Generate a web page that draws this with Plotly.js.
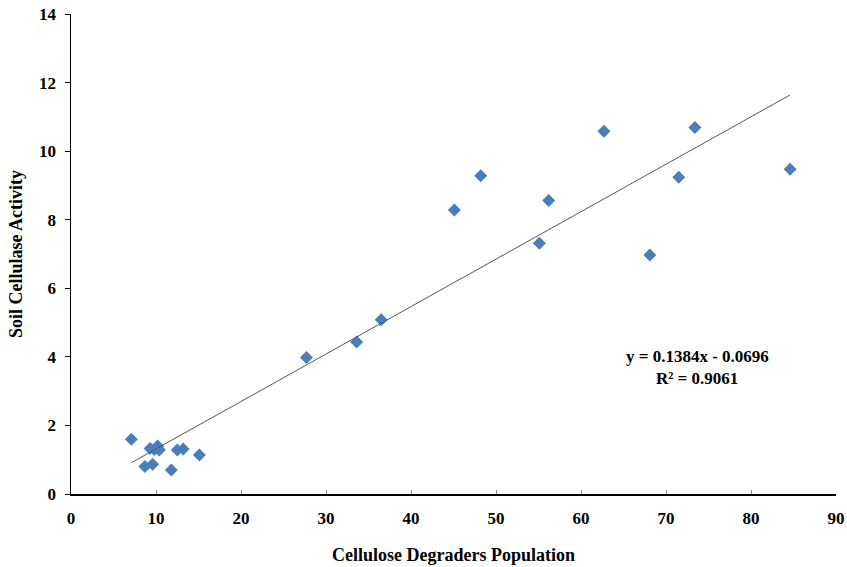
<!DOCTYPE html>
<html>
<head>
<meta charset="utf-8">
<script src="https://cdn.plot.ly/plotly-3.0.1.min.js"></script>
<style>html,body{margin:0;padding:0;background:#fff;}#chart{width:847px;height:567px;}</style>
</head>
<body>
<div id="chart"></div>
<script>
// Cellulose degraders population (x) vs soil cellulase activity (y)
var population = [7.1, 8.7, 9.3, 9.6, 9.8, 10.2, 10.4, 11.8, 12.5, 13.2, 15.1,
                  27.7, 33.6, 36.5, 45.1, 48.2, 55.1, 56.2, 62.7, 68.1, 71.5, 73.4, 84.6];
var activity   = [1.60, 0.80, 1.33, 0.87, 1.30, 1.40, 1.28, 0.70, 1.28, 1.31, 1.14,
                  3.98, 4.43, 5.08, 8.28, 9.28, 7.31, 8.56, 10.58, 6.97, 9.24, 10.69, 9.47];
var slope = 0.1384;
var intercept = -0.0696;
var rSquared = 0.9061;
var xTicks = [0, 10, 20, 30, 40, 50, 60, 70, 80, 90];
var yTicks = [0, 2, 4, 6, 8, 10, 12, 14];

var xmin = Math.min.apply(null, population);
var xmax = Math.max.apply(null, population);
var trendX = [xmin, xmax];
var trendY = trendX.map(function (v) { return slope * v + intercept; });

var fam = '"Liberation Serif", "Times New Roman", serif';

var data = [
  {
    x: population, y: activity, type: 'scatter', mode: 'markers',
    marker: {symbol: 'diamond', size: 10, color: '#4a7ebb'},
    hoverinfo: 'x+y'
  },
  {
    x: trendX, y: trendY, type: 'scatter', mode: 'lines',
    line: {color: '#555555', width: 1}
  }
];

var layout = {
  width: 847, height: 567,
  margin: {l: 71, r: 11, t: 14, b: 73},
  paper_bgcolor: '#fff', plot_bgcolor: '#fff',
  showlegend: false,
  font: {family: fam, size: 17, color: '#000'},
  xaxis: {
    range: [0, 90], tickvals: xTicks, ticktext: xTicks.map(String),
    showgrid: false, zeroline: false,
    showline: true, linecolor: '#000', linewidth: 1.5,
    ticks: 'inside', ticklen: 4, tickcolor: '#888', tickwidth: 1,
    ticklabelstandoff: 8,
    tickfont: {family: fam, size: 17, color: '#000', weight: 'bold'},
    title: {text: '<b>Cellulose Degraders Population</b>', font: {family: fam, size: 18, color: '#000'}, standoff: 21}
  },
  yaxis: {
    range: [0, 14], tickvals: yTicks, ticktext: yTicks.map(String),
    showgrid: false, zeroline: false,
    showline: true, linecolor: '#000', linewidth: 1.5,
    ticks: 'outside', ticklen: 5, tickcolor: '#000', tickwidth: 1,
    ticklabelstandoff: 5,
    tickfont: {family: fam, size: 17, color: '#000', weight: 'bold'},
    title: {text: '<b>Soil Cellulase Activity</b>', font: {family: fam, size: 18, color: '#000'}, standoff: 12}
  },
  annotations: [
    {
      x: 73.7, y: 4.0, xref: 'x', yref: 'y', showarrow: false,
      text: '<b>y = ' + slope + 'x - ' + Math.abs(intercept) + '</b>',
      font: {family: fam, size: 17, color: '#000'}
    },
    {
      x: 73.7, y: 3.36, xref: 'x', yref: 'y', showarrow: false,
      text: '<b>R² = ' + rSquared + '</b>',
      font: {family: fam, size: 17, color: '#000'}
    }
  ]
};

Plotly.newPlot('chart', data, layout, {displayModeBar: false, staticPlot: true});
</script>
</body>
</html>
